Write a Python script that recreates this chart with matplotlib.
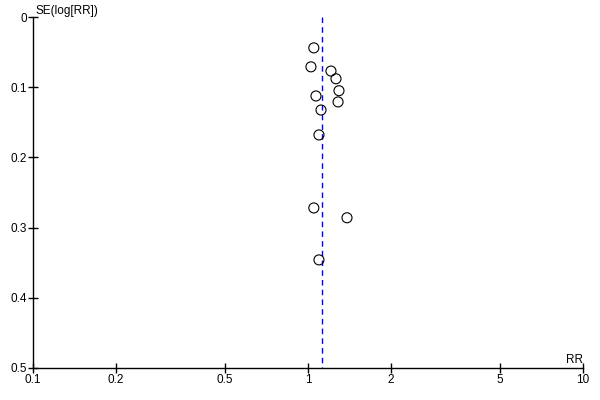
import matplotlib
matplotlib.use("Agg")
import matplotlib.pyplot as plt
from matplotlib.ticker import FixedLocator, FixedFormatter, NullLocator

plt.rcParams['font.family'] = ['Liberation Sans', 'DejaVu Sans']

# study estimates
rr = [1.05, 1.025, 1.212, 1.264, 1.296, 1.286, 1.069, 1.115, 1.096, 1.05, 1.386, 1.096]
se = [0.044, 0.071, 0.077, 0.088, 0.105, 0.121, 0.1125, 0.1325, 0.168, 0.272, 0.286, 0.346]
pooled_rr = 1.124

x_ticks = [0.1, 0.2, 0.5, 1, 2, 5, 10]
x_labels = ["0.1", "0.2", "0.5", "1", "2", "5", "10"]
y_ticks = [0, 0.1, 0.2, 0.3, 0.4, 0.5]
y_labels = ["0", "0.1", "0.2", "0.3", "0.4", "0.5"]

fig = plt.figure(figsize=(6, 4), dpi=100)
ax = fig.add_axes([0.055, 0.08, 0.9167, 0.8775])

ax.scatter(rr, se, s=52, facecolors='none', edgecolors='black', linewidths=0.8, zorder=3)
ax.plot([pooled_rr, pooled_rr], [0, 0.5], color='blue', linestyle=(0, (4, 3)), linewidth=1)

ax.set_xscale('log')
ax.set_xlim(0.1, 10)
ax.set_ylim(0.5, 0)
ax.xaxis.set_major_locator(FixedLocator(x_ticks))
ax.xaxis.set_major_formatter(FixedFormatter(x_labels))
ax.xaxis.set_minor_locator(NullLocator())
ax.yaxis.set_major_locator(FixedLocator(y_ticks))
ax.yaxis.set_major_formatter(FixedFormatter(y_labels))

for s in ['top', 'right']:
    ax.spines[s].set_visible(False)
for s in ['left', 'bottom']:
    ax.spines[s].set_linewidth(1)
ax.tick_params(direction='inout', length=7, width=1, labelsize=8.5, pad=1)

ax.text(0.005, 1.0, "SE(log[RR])", transform=ax.transAxes, fontsize=8.5, va='bottom', ha='left')
ax.text(1.0, 0.005, "RR", transform=ax.transAxes, fontsize=8.5, va='bottom', ha='right')

fig.savefig("out.png", dpi=100)
